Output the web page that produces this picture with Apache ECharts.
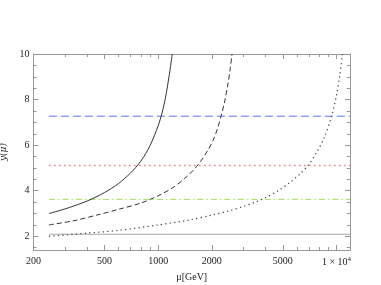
<!DOCTYPE html>
<html>
<head>
<meta charset="utf-8">
<script src="https://cdn.jsdelivr.net/npm/echarts@6/dist/echarts.min.js"></script>
<style>html,body{margin:0;padding:0;background:#fff}#c{width:381px;height:285px}</style>
</head>
<body>
<div id="c"></div>
<script>
// ---- data ----
var xMajorTicks = [200, 500, 1000, 2000, 5000, 10000];
var xMinorTicks = [300, 400, 600, 700, 800, 900, 3000, 4000, 6000, 7000, 8000, 9000];
var yMajorTicks = [2, 4, 6, 8, 10];
var yMinorTicks = [1.5, 2.5, 3, 3.5, 4.5, 5, 5.5, 6.5, 7, 7.5, 8.5, 9, 9.5];

var solidCurve = [[244,3.0],[300,3.2],[400,3.55],[500,3.92],[600,4.32],[700,4.78],[800,5.3],[900,5.98],[1000,6.85],[1050,7.4],[1100,8.1],[1150,9.0],[1200,10]];
var dashedCurve = [[244,2.5],[334,2.68],[452,2.93],[610,3.2],[800,3.46],[1000,3.78],[1200,4.12],[1400,4.52],[1600,4.96],[1752,5.35],[1900,5.78],[2034,6.22],[2150,6.72],[2252,7.27],[2350,7.85],[2450,8.6],[2530,9.3],[2594,10]];
var dottedCurve = [[244,2.0],[400,2.14],[600,2.26],[1000,2.5],[1500,2.72],[2000,2.93],[2500,3.12],[3000,3.31],[3558,3.52],[4000,3.7],[4700,4.0],[5500,4.37],[6300,4.77],[6940,5.12],[7700,5.65],[8500,6.3],[9380,7.27],[10000,8.2],[10400,9.0],[10800,10]];

var hLineStart = 244, hLineEnd = 11900;
var blueLevel = 7.27, redLevel = 5.11, greenLevel = 3.62, grayLevel = 2.09;

// ---- chart ----
var font = '"Liberation Serif", "DejaVu Serif", serif';
var frameColor = '#999';
function xAx(pos, ticks, len, labels) {
  return {
    type: 'log', logBase: 10, min: 200, max: 11900, position: pos,
    axisLine: {show: true, lineStyle: {color: frameColor, width: 1}},
    axisTick: {show: true, inside: true, length: len, customValues: ticks, lineStyle: {color: frameColor}},
    axisLabel: labels ? {
      show: true, customValues: xMajorTicks, fontFamily: font, fontSize: 10, color: '#222', margin: 6,
      formatter: function (v) { return v >= 9999 ? '1 \u00d7 10{s|4}' : String(Math.round(v)); },
      rich: {s: {fontSize: 7, verticalAlign: 'top', fontFamily: font, color: '#222', padding: [0,0,5,0]}}
    } : {show: false},
    splitLine: {show: false}, minorTick: {show: false}
  };
}
function yAx(pos, ticks, len, labels) {
  return {
    type: 'value', min: 1.4, max: 10, position: pos,
    axisLine: {show: true, lineStyle: {color: frameColor, width: 1}},
    axisTick: {show: true, inside: true, length: len, customValues: ticks, lineStyle: {color: frameColor}},
    axisLabel: labels ? {show: true, customValues: yMajorTicks, fontFamily: font, fontSize: 10, color: '#222', margin: 4} : {show: false},
    splitLine: {show: false}
  };
}
var xAxes = [xAx('bottom', xMajorTicks, 5, true), xAx('bottom', xMinorTicks, 3, false), xAx('top', xMajorTicks, 5, false), xAx('top', xMinorTicks, 3, false)];
xAxes[0].name = '\u03bc[GeV]';
xAxes[0].nameLocation = 'middle';
xAxes[0].nameGap = 21;
xAxes[0].nameTextStyle = {fontFamily: font, fontSize: 10, color: '#222', fontStyle: 'normal'};
var yAxes = [yAx('left', yMajorTicks, 5, true), yAx('left', yMinorTicks, 3, false), yAx('right', yMajorTicks, 5, false), yAx('right', yMinorTicks, 3, false)];
yAxes[0].name = 'y\u0305(\u03bc)';
yAxes[0].nameLocation = 'middle';
yAxes[0].nameGap = 20;
yAxes[0].nameTextStyle = {fontFamily: '"DejaVu Serif", serif', fontSize: 9, color: '#222', fontStyle: 'italic'};

function hline(level) { return [[hLineStart, level], [hLineEnd, level]]; }
function lineSeries(data, color, type, width, smooth) {
  return {type: 'line', data: data, showSymbol: false, symbol: 'none', smooth: smooth ? 0.3 : false,
    xAxisIndex: 0, yAxisIndex: 0, animation: false,
    lineStyle: {color: color, width: width, type: type}, clip: true};
}

var chart = echarts.init(document.getElementById('c'), null, {renderer: 'canvas'});
chart.setOption({
  animation: false,
  backgroundColor: '#fff',
  grid: {left: 33.5, right: 31, top: 54, bottom: 35, containLabel: false, outerBoundsMode: 'none'},
  xAxis: xAxes,
  yAxis: yAxes,
  series: [
    lineSeries(hline(grayLevel), '#a8a8a8', 'solid', 1, false),
    lineSeries(hline(greenLevel), '#a6e05a', [6, 3, 1.5, 3], 1, false),
    lineSeries(hline(redLevel), '#f08a8a', [1.8, 3.2], 1.4, false),
    lineSeries(hline(blueLevel), '#5a78f0', [8, 4], 1, false),
    lineSeries(solidCurve, '#333', 'solid', 1, true),
    lineSeries(dashedCurve, '#333', [5, 3], 1, true),
    lineSeries(dottedCurve, '#444', [1.3, 3.2], 1.2, true)
  ]
});
</script>
</body>
</html>
